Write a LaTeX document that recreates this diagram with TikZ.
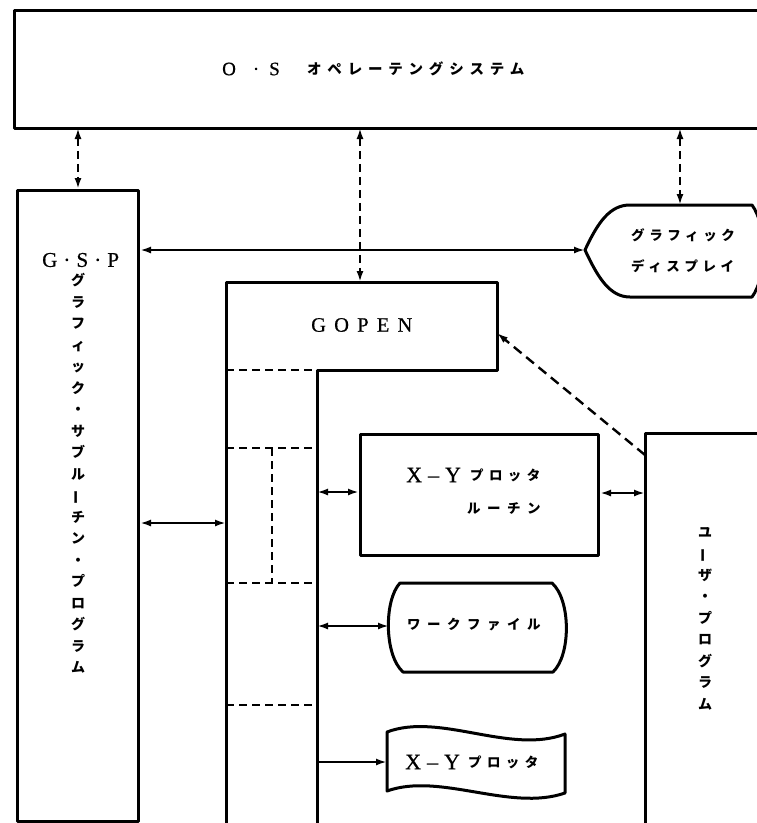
\documentclass[tikz,border=0pt]{standalone}
\usepackage{fontspec}
\setmainfont{Liberation Serif}[FakeBold=0.6,AutoFakeBold=0.6]
\newfontfamily\jp{Noto Sans CJK JP}
\newcommand\jpls[1]{\fontspec{Noto Sans CJK JP}[LetterSpace=#1]\bfseries}
\newcommand\latls[1]{\fontspec{Liberation Serif}[LetterSpace=#1,FakeBold=0.6]}
\newcommand\latb{\fontspec{Liberation Serif}[FakeBold=0.6]}
\newcommand\vbarjp{\rotatebox[origin=c]{90}{ー}}
\usetikzlibrary{arrows.meta}
\tikzset{
  box/.style={line width=3pt},
  conn/.style={line width=2.4pt,{Latex[length=11pt,width=7pt]}-{Latex[length=11pt,width=7pt]}},
  oneway/.style={line width=2.4pt,-{Latex[length=11pt,width=7pt]}},
  dconn/.style={conn,dash pattern=on 8pt off 5pt},
  inner/.style={line width=2.2pt,dash pattern=on 8pt off 5pt},
  txt/.style={inner sep=0pt,anchor=west},
  vtxt/.style={inner sep=0pt,align=center,font=\jp\bfseries\fontsize{14}{21.5}\selectfont}
}
\begin{document}
\begin{tikzpicture}[x=1pt,y=-1pt,line join=round]
\useasboundingbox (0,0) rectangle (757,823);
\clip (0,0) rectangle (757,823);
\fill[white] (0,0) rectangle (757,823);

% O.S box
\draw[box] (762,10) -- (14,10) -- (14,128) -- (762,128);
\node[txt,font=\latb\fontsize{19}{19}\selectfont] (ostxt) at (222,69) {O\hspace{17pt}·\hspace{10pt}S};
\node[txt,font=\jpls{40}\fontsize{14.5}{14.5}\selectfont] (osjp) at (307,69) {オペレーテングシステム};
\coordinate (osA) at (78,128);
\coordinate (osB) at (360,128);
\coordinate (osC) at (680,128);

% G.S.P box
\node[draw,box,anchor=north west,minimum width=121pt,minimum height=631pt,inner sep=0pt] (gsp) at (16,189) {};
\node[txt,font=\latls{29}\fontsize{21}{21}\selectfont] (gsptxt) at (42,260) {G·S·P};
\node[vtxt] (gspjp) at (78,473.5) {グ\\ラ\\フ\\ィ\\ッ\\ク\\・\\サ\\ブ\\ル\\\vbarjp\\チ\\ン\\・\\プ\\ロ\\グ\\ラ\\ム};

% graphic display
\draw[box] (585,250) .. controls (598,222) and (610,205) .. (630,205) -- (752,205)
  .. controls (767,225) and (767,277) .. (752,297) -- (630,297)
  .. controls (610,297) and (598,278) .. (585,250) -- cycle;
\coordinate (dispTip) at (585,250);
\coordinate (dispTop) at (680,205);
\node[txt,font=\jpls{34}\fontsize{13.5}{13.5}\selectfont] (disp1) at (631,235) {グラフィック};
\node[txt,font=\jpls{34}\fontsize{13.5}{13.5}\selectfont] (disp2) at (631,266) {ディスプレイ};

% GOPEN + column
\draw[box] (226,826) -- (226,282) -- (497,282) -- (497,370) -- (317,370) -- (317,826);
\node[txt,font=\latls{40}\fontsize{20.5}{20.5}\selectfont] (gopentxt) at (311,325) {GOPEN};
\coordinate (gopenTop) at (360,282);
\coordinate (gopenR) at (497,333);
\draw[inner] (226,370) -- (317,370);
\draw[inner] (226,448) -- (317,448);
\draw[inner] (226,583) -- (317,583);
\draw[inner] (226,705) -- (317,705);
\draw[inner] (272,448) -- (272,583);
\coordinate (colL) at (226,523);
\coordinate (colR1) at (317,492);
\coordinate (colR2) at (317,626);
\coordinate (colR3) at (317,762);

% X-Y plotter routine
\node[draw,box,anchor=north west,minimum width=238pt,minimum height=121pt,inner sep=0pt] (xyr) at (359,433) {};
\node[txt,font=\latb\fontsize{22}{22}\selectfont] (xyr1) at (406,475) {X\hspace{6pt}–\hspace{6pt}Y};
\node[txt,font=\jpls{40}\fontsize{13.5}{13.5}\selectfont] (xyr2) at (470,475) {プロッタ};
\node[txt,font=\jpls{48}\fontsize{13.5}{13.5}\selectfont] (xyr3) at (467,508) {ルーチン};

% user program
\draw[box] (762,433) -- (645,433) -- (645,826);
\coordinate (userA) at (645,493);
\coordinate (userC) at (645,455);
\node[vtxt] (userjp) at (705,618.5) {ユ\\\vbarjp\\ザ\\・\\プ\\ロ\\グ\\ラ\\ム};

% work file
\draw[box] (400,583) -- (552,583) .. controls (571,600) and (571,655) .. (553,672)
  -- (403,672) .. controls (384,655) and (384,600) .. (400,583) -- cycle;
\coordinate (wfL) at (389,626);
\node[txt,font=\jpls{48}\fontsize{13.5}{13.5}\selectfont] (wftxt) at (407,625) {ワークファイル};

% X-Y plotter (device)
\draw[box] (387,732) .. controls (440,712) and (510,755) .. (565,734) -- (565,793)
  .. controls (510,812) and (440,772) .. (387,791) -- cycle;
\coordinate (ptL) at (387,762);
\node[txt,font=\latb\fontsize{22}{22}\selectfont] (pt1) at (405,762) {X\hspace{6pt}–\hspace{6pt}Y};
\node[txt,font=\jpls{40}\fontsize{13.5}{13.5}\selectfont] (pt2) at (468,762) {プロッタ};

% connectors
\draw[dconn] (osA) -- (osA |- gsp.north);
\draw[dconn] (osB) -- (gopenTop);
\draw[dconn] (osC) -- (dispTop);
\draw[conn] (gsp.east |- dispTip) -- (dispTip);
\draw[conn] (gsp.east |- colL) -- (colL);
\draw[conn] (colR1) -- (xyr.west |- colR1);
\draw[conn] (xyr.east |- userA) -- (userA);
\draw[conn] (colR2) -- (wfL);
\draw[oneway] (colR3) -- (ptL);
\draw[line width=2.4pt,dash pattern=on 10pt off 6pt,-{Latex[length=11pt,width=7pt]}] (userC) -- (gopenR);
\end{tikzpicture}
\end{document}
